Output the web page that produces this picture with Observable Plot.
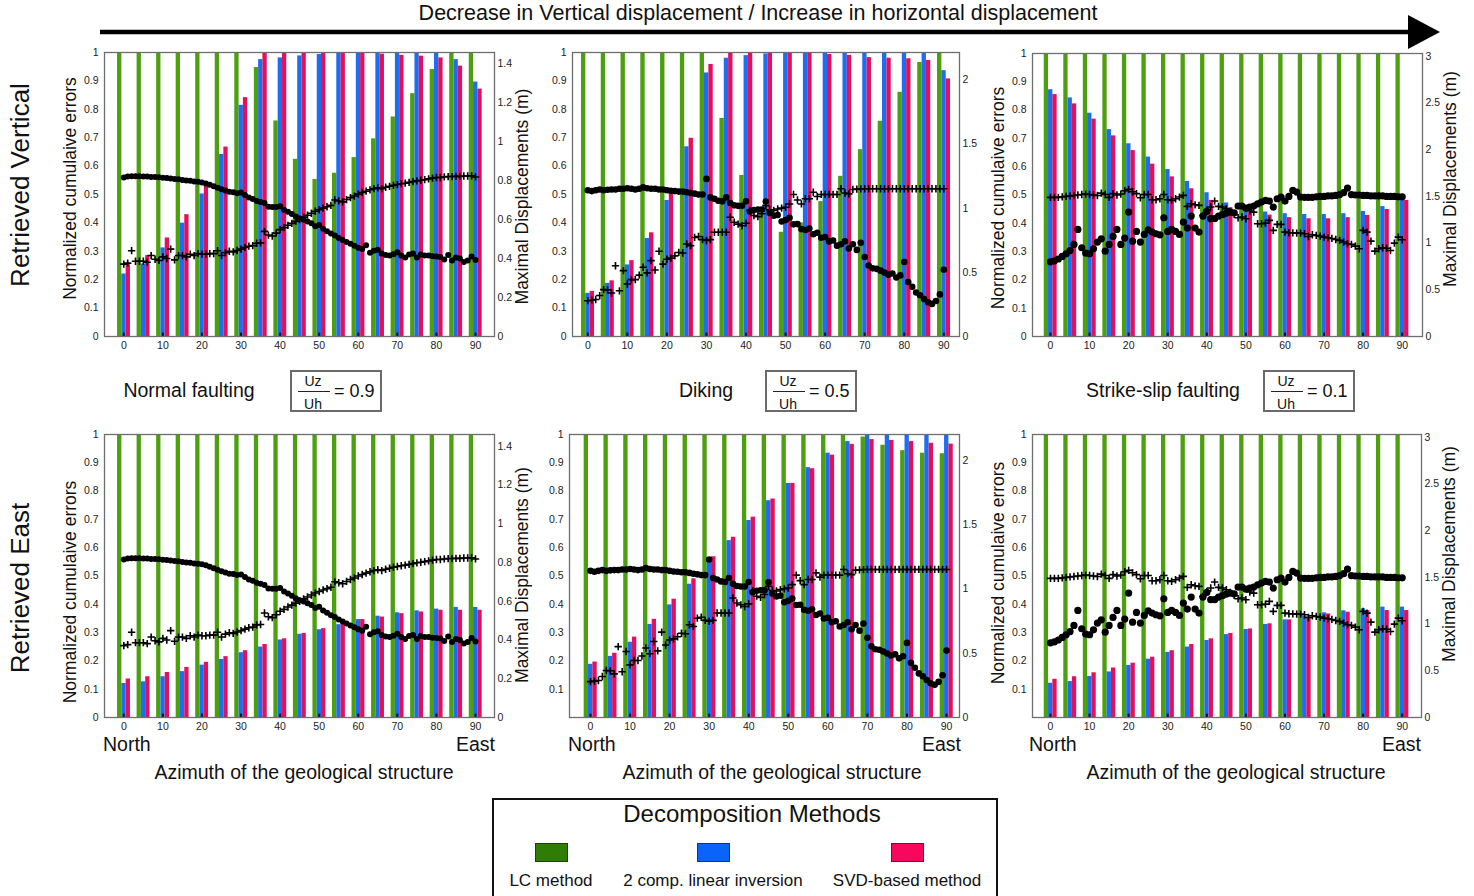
<!DOCTYPE html>
<html>
<head>
<meta charset="utf-8">
<script src="https://cdn.jsdelivr.net/npm/d3@7"></script>
<script src="https://cdn.jsdelivr.net/npm/@observablehq/plot@0.6"></script>
<style>
  html, body { margin: 0; padding: 0; background: #fff; }
  body { font-family: "Liberation Sans", Arial, sans-serif; color: #111; }
  #page { position: relative; width: 1474px; height: 896px; overflow: hidden; background: #fff; }
  .t { position: absolute; white-space: nowrap; line-height: 1; }
  svg { overflow: visible; }
</style>
</head>
<body>
<div id="page"></div>
<script>
// ---------------- DATA ----------------
const groupAzimuths = [0,5,10,15,20,25,30,35,40,45,50,55,60,65,70,75,80,85,90];
const scatterAzimuths = d3.range(0, 91); // 1-degree steps, 0..90
const xTicks = [0,10,20,30,40,50,60,70,80,90];
const leftTicksFull = [0,0.1,0.2,0.3,0.4,0.5,0.6,0.7,0.8,0.9,1];
const leftTicksNoZero = [0.1,0.2,0.3,0.4,0.5,0.6,0.7,0.8,0.9,1];
const rightTicksNormal = [0,0.2,0.4,0.6,0.8,1,1.2,1.4];
const rightTicksDiking = [0,0.5,1,1.5,2];
const rightTicksStrike = [0,0.5,1,1.5,2,2.5,3];
const methods = ["LC method", "2 comp. linear inversion", "SVD-based method"];

// Normalized cumulative errors (bars), one value per azimuth group
const normalVertLC  = [1,1,1,1,1,1,1,0.947,0.759,0.624,0.553,0.575,0.63,0.696,0.773,0.855,0.94,1,1];
const normalVertLin = [0.22,0.255,0.312,0.399,0.502,0.641,0.814,0.975,0.981,0.988,0.993,1,1,1,1,1,1,0.975,0.896];
const normalVertSVD = [0.253,0.285,0.347,0.429,0.53,0.667,0.841,1,1,1,1,1,1,0.994,0.99,0.987,0.981,0.952,0.871];

const dikingVertLC  = [1,1,1,1,1,1,1,0.768,0.567,0.44,0.367,0.40,0.475,0.564,0.658,0.758,0.86,0.965,1];
const dikingVertLin = [0.152,0.187,0.252,0.345,0.479,0.668,0.928,0.98,0.989,0.995,1,1,1,1,1,1,1,1,0.936];
const dikingVertSVD = [0.159,0.196,0.267,0.365,0.506,0.698,0.958,1,1,1,1,1,0.993,0.99,0.982,0.98,0.978,0.972,0.907];

const strikeVertLC  = [1,1,1,1,1,1,1,1,1,1,1,1,1,1,1,1,1,1,1];
const strikeVertLin = [0.872,0.843,0.789,0.731,0.681,0.634,0.59,0.548,0.508,0.472,0.45,0.44,0.434,0.431,0.431,0.434,0.442,0.459,0.49];
const strikeVertSVD = [0.855,0.822,0.768,0.709,0.657,0.609,0.564,0.522,0.481,0.455,0.438,0.429,0.42,0.416,0.416,0.42,0.428,0.449,0.481];

const normalEastLC  = [1,1,1,1,1,1,1,1,1,1,1,1,1,1,1,1,1,1,1];
const normalEastLin = [0.12,0.126,0.144,0.162,0.185,0.205,0.229,0.249,0.274,0.294,0.31,0.328,0.346,0.358,0.37,0.377,0.383,0.389,0.389];
const normalEastSVD = [0.136,0.144,0.159,0.177,0.195,0.215,0.236,0.258,0.278,0.297,0.314,0.33,0.346,0.355,0.367,0.373,0.379,0.379,0.379];

const dikingEastLC  = [1,1,1,1,1,1,1,1,1,1,1,1,1,1,0.991,0.962,0.943,0.934,0.932];
const dikingEastLin = [0.188,0.216,0.266,0.329,0.398,0.471,0.551,0.625,0.696,0.766,0.827,0.883,0.934,0.975,1,1,1,1,1];
const dikingEastSVD = [0.196,0.227,0.284,0.347,0.418,0.49,0.568,0.637,0.708,0.772,0.827,0.879,0.927,0.965,0.982,0.979,0.975,0.969,0.966];

const strikeEastLC  = [1,1,1,1,1,1,1,1,1,1,1,1,1,1,1,1,1,1,1];
const strikeEastLin = [0.121,0.127,0.145,0.161,0.184,0.206,0.23,0.249,0.272,0.293,0.311,0.329,0.345,0.357,0.37,0.377,0.384,0.39,0.39];
const strikeEastSVD = [0.135,0.144,0.158,0.175,0.192,0.213,0.236,0.258,0.278,0.297,0.313,0.331,0.345,0.355,0.366,0.372,0.378,0.378,0.378];

// Maximal displacements (m), one value per degree of azimuth (filled dots / plus markers)
const normalDotsM = [0.815,0.82,0.822,0.822,0.822,0.82,0.82,0.818,0.818,0.816,
 0.814,0.812,0.81,0.808,0.806,0.802,0.8,0.798,0.795,0.793,
 0.79,0.785,0.778,0.77,0.762,0.755,0.748,0.742,0.74,0.735,
 0.738,0.725,0.712,0.705,0.695,0.69,0.684,0.665,0.664,0.664,
 0.668,0.65,0.64,0.628,0.615,0.605,0.598,0.59,0.58,0.565,
 0.572,0.552,0.54,0.528,0.518,0.505,0.495,0.485,0.475,0.465,
 0.455,0.448,0.468,0.43,0.44,0.445,0.425,0.418,0.415,0.422,
 0.432,0.415,0.405,0.42,0.425,0.405,0.42,0.415,0.415,0.412,
 0.41,0.408,0.395,0.418,0.39,0.405,0.4,0.382,0.39,0.41,
 0.392];
const normalCrossesM = [0.371,0.376,0.44,0.386,0.386,0.386,0.381,0.415,0.396,0.39,
 0.408,0.4,0.448,0.393,0.415,0.415,0.408,0.422,0.415,0.425,
 0.422,0.422,0.425,0.425,0.44,0.415,0.43,0.437,0.434,0.441,
 0.448,0.456,0.463,0.466,0.478,0.48,0.539,0.52,0.515,0.53,
 0.548,0.558,0.57,0.58,0.59,0.6,0.612,0.622,0.632,0.642,
 0.65,0.658,0.665,0.672,0.70,0.695,0.69,0.702,0.712,0.72,
 0.73,0.738,0.745,0.752,0.758,0.762,0.758,0.765,0.77,0.775,
 0.779,0.783,0.786,0.79,0.794,0.798,0.801,0.804,0.808,0.812,
 0.815,0.815,0.818,0.82,0.82,0.821,0.821,0.823,0.823,0.824,
 0.818];
const dikingDotsM = [1.14,1.133,1.14,1.146,1.14,1.144,1.146,1.146,1.151,1.151,
 1.155,1.151,1.146,1.151,1.162,1.155,1.151,1.151,1.146,1.146,
 1.14,1.135,1.133,1.129,1.129,1.124,1.118,1.113,1.107,1.107,
 1.228,1.084,1.073,1.058,1.053,1.084,1.04,1.022,1.018,1.018,
 1.053,0.974,0.985,0.989,0.989,1.051,0.963,0.941,0.947,0.896,
 0.907,0.925,0.874,0.876,0.837,0.83,0.841,0.797,0.808,0.77,
 0.775,0.741,0.748,0.708,0.719,0.741,0.686,0.719,0.675,0.73,
 0.62,0.553,0.531,0.527,0.513,0.498,0.482,0.491,0.46,0.476,
 0.58,0.425,0.387,0.343,0.321,0.292,0.266,0.254,0.277,0.328,
 0.52];
const dikingCrossesM = [0.279,0.283,0.288,0.319,0.365,0.363,0.339,0.551,0.356,0.513,
 0.409,0.443,0.443,0.478,0.54,0.496,0.591,0.518,0.664,0.564,
 0.602,0.611,0.628,0.655,0.651,0.721,0.708,0.772,0.779,0.755,
 0.748,0.755,0.812,0.812,0.812,0.812,0.929,0.89,0.876,0.863,
 0.883,0.983,0.943,0.934,0.956,1.02,0.987,0.983,0.994,1.0,
 1.007,1.033,1.107,1.064,1.033,1.073,1.073,1.124,1.091,1.107,
 1.107,1.107,1.107,1.107,1.151,1.118,1.111,1.146,1.148,1.15,
 1.151,1.151,1.151,1.151,1.151,1.151,1.151,1.151,1.151,1.151,
 1.151,1.151,1.151,1.151,1.151,1.151,1.151,1.151,1.151,1.151,
 1.151];
const strikeDotsM = [0.80,0.81,0.83,0.857,0.886,0.92,0.986,1.146,0.95,0.893,
 0.886,0.939,1.011,1.046,0.914,0.986,1.071,1.146,0.986,1.054,
 1.332,1.021,1.125,1.011,1.093,1.143,1.118,1.1,1.089,1.271,
 1.125,1.146,1.125,1.093,1.225,1.161,1.289,1.161,1.118,1.289,
 1.339,1.261,1.261,1.289,1.304,1.321,1.332,1.325,1.396,1.396,
 1.375,1.386,1.396,1.421,1.439,1.457,1.45,1.386,1.475,1.493,
 1.45,1.5,1.564,1.546,1.493,1.49,1.49,1.49,1.495,1.5,
 1.5,1.505,1.505,1.51,1.52,1.54,1.589,1.52,1.515,1.515,
 1.51,1.51,1.505,1.505,1.505,1.505,1.5,1.5,1.5,1.495,
 1.495];
const strikeCrossesM = [1.49,1.49,1.49,1.495,1.50,1.505,1.51,1.515,1.52,1.525,
 1.52,1.515,1.51,1.535,1.52,1.49,1.53,1.515,1.525,1.56,
 1.575,1.55,1.53,1.486,1.52,1.52,1.464,1.464,1.475,1.521,
 1.464,1.457,1.475,1.493,1.511,1.393,1.421,1.41,1.404,1.296,
 1.35,1.386,1.45,1.393,1.386,1.368,1.34,1.307,1.271,1.279,
 1.261,1.343,1.332,1.207,1.207,1.214,1.243,1.136,1.2,1.2,
 1.118,1.111,1.11,1.107,1.107,1.1,1.071,1.089,1.082,1.075,
 1.064,1.057,1.05,1.039,1.029,1.011,0.993,0.986,0.968,0.939,
 1.136,1.118,1.021,0.914,0.939,0.95,0.945,0.921,1.0,1.064,
 1.036];

// ---------------- STYLE ----------------
const barColors = ["#4c9f0e", "#1e6cf1", "#e3105d"];
const legendColors = ["#2f7d06", "#0a64fb", "#f7085d"];
const barOffset = {"LC method": -1.6, "2 comp. linear inversion": -0.5, "SVD-based method": 0.6};
const barWidth = 1.1;
const fmt = d3.format("~g");
const FONT = '"Liberation Sans", Arial, sans-serif';

const page = document.getElementById("page");

function addText(str, x, y, size, opts = {}) {
  const el = document.createElement("div");
  el.className = "t";
  el.textContent = str;
  const anchor = opts.anchor || "middle";
  const tx = anchor === "start" ? "0" : anchor === "end" ? "-100%" : "-50%";
  el.style.left = x + "px";
  el.style.top = y + "px";
  el.style.fontSize = size + "px";
  el.style.transform = `translate(${tx},-50%)` + (opts.rotate ? ` rotate(${opts.rotate}deg)` : "");
  if (opts.color) el.style.color = opts.color;
  page.appendChild(el);
  return el;
}

function makePanel(cfg) {
  const mL = 52, mR = 58, mT = 12, mB = 26;
  const width = (cfg.fr - cfg.fl) + mL + mR;
  const height = (cfg.fb - cfg.ft) + mT + mB;
  const xDomain = [(cfg.fl - cfg.x0) / cfg.k, (cfg.fr - cfg.x0) / cfg.k];
  const bars = [];
  groupAzimuths.forEach((az, i) => {
    methods.forEach((m, j) => bars.push({az, method: m, v: cfg.bars[j][i]}));
  });
  const dots = scatterAzimuths.map((az, i) => ({az, m: cfg.dots[i]}));
  const crosses = scatterAzimuths.map((az, i) => ({az, m: cfg.crosses[i]}));
  const rmax = cfg.rmax;
  const marks = [
    Plot.rect(bars, {
      x1: d => d.az + barOffset[d.method],
      x2: d => d.az + barOffset[d.method] + barWidth,
      y1: 0, y2: "v", fill: "method"
    }),
    Plot.ruleX(xTicks, {x: d => d, y1: 0, y2: 0.012, stroke: "#111", strokeWidth: 2}),
    Plot.dot(crosses, {x: "az", y: d => d.m / rmax, symbol: "plus", r: 2.5, stroke: "#000", strokeWidth: 1.6}),
    Plot.dot(dots, {x: "az", y: d => d.m / rmax, r: cfg.dotR, fill: "#000", stroke: "none"}),
    Plot.frame({stroke: "#6e6e6e", strokeWidth: 1.3}),
    Plot.axisX(xTicks, {anchor: "bottom", tickSize: 0, tickPadding: 5, text: d => fmt(d), label: null, fill: "#222"}),
    Plot.axisY(cfg.leftTicks, {anchor: "left", tickSize: 0, tickPadding: 6, text: d => fmt(d), label: null, fill: "#222"}),
    Plot.axisY(cfg.rightTicks, {anchor: "right", y: d => d / rmax, tickSize: 0, tickPadding: 3, text: d => fmt(d), label: null, fill: "#222"})
  ];
  if (cfg.leftTitle) {
    marks.push(Plot.text(["Normalized cumulaive errors"], {
      frameAnchor: "left", dx: -34, dy: cfg.leftDy || 0, rotate: -90,
      textAnchor: "middle", lineAnchor: "middle", fontSize: 17.5, fill: "#111"
    }));
  }
  if (cfg.rightTitle) {
    marks.push(Plot.text(["Maximal Displacements (m)"], {
      frameAnchor: "right", dx: 28, dy: cfg.rightDy || 0, rotate: -90,
      textAnchor: "middle", lineAnchor: "middle", fontSize: 17.5, fill: "#111"
    }));
  }
  const svg = Plot.plot({
    width, height,
    marginLeft: mL, marginRight: mR, marginTop: mT, marginBottom: mB,
    x: {domain: xDomain},
    y: {domain: [0, 1]},
    color: {domain: methods, range: barColors},
    style: {background: "transparent", fontFamily: FONT, fontSize: "10.5px", overflow: "visible"},
    marks
  });
  svg.style.position = "absolute";
  svg.style.left = (cfg.fl - mL) + "px";
  svg.style.top = (cfg.ft - mT) + "px";
  page.appendChild(svg);
}

// ---------------- PANELS ----------------
makePanel({fl: 104, fr: 494, ft: 52, fb: 336, x0: 123.3, k: 3.908, rmax: 1.456, dotR: 3.0,
  bars: [normalVertLC, normalVertLin, normalVertSVD], dots: normalDotsM, crosses: normalCrossesM,
  leftTicks: leftTicksFull, rightTicks: rightTicksNormal, leftTitle: true, rightTitle: true, leftDy: -6, rightDy: 2});
makePanel({fl: 572, fr: 959, ft: 52, fb: 336, x0: 587.3, k: 3.956, rmax: 2.213, dotR: 3.3,
  bars: [dikingVertLC, dikingVertLin, dikingVertSVD], dots: dikingDotsM, crosses: dikingCrossesM,
  leftTicks: leftTicksFull, rightTicks: rightTicksDiking});
makePanel({fl: 1032, fr: 1422, ft: 53, fb: 336, x0: 1050, k: 3.908, rmax: 3.03, dotR: 3.6,
  bars: [strikeVertLC, strikeVertLin, strikeVertSVD], dots: strikeDotsM, crosses: strikeCrossesM,
  leftTicks: leftTicksFull, rightTicks: rightTicksStrike, leftTitle: true, rightTitle: true, leftDy: 3, rightDy: -16});
makePanel({fl: 104, fr: 494, ft: 434, fb: 717, x0: 123.3, k: 3.908, rmax: 1.46, dotR: 3.0,
  bars: [normalEastLC, normalEastLin, normalEastSVD], dots: normalDotsM, crosses: normalCrossesM,
  leftTicks: leftTicksFull, rightTicks: rightTicksNormal, leftTitle: true, rightTitle: true, leftDy: 16, rightDy: -1});
makePanel({fl: 569, fr: 959, ft: 434, fb: 717, x0: 590, k: 3.956, rmax: 2.2, dotR: 3.3,
  bars: [dikingEastLC, dikingEastLin, dikingEastSVD], dots: dikingDotsM, crosses: dikingCrossesM,
  leftTicks: leftTicksNoZero, rightTicks: rightTicksDiking});
makePanel({fl: 1032, fr: 1421, ft: 434, fb: 717, x0: 1050, k: 3.908, rmax: 3.03, dotR: 3.6,
  bars: [strikeEastLC, strikeEastLin, strikeEastSVD], dots: strikeDotsM, crosses: strikeCrossesM,
  leftTicks: leftTicksNoZero, rightTicks: rightTicksStrike, leftTitle: true, rightTitle: true, leftDy: -3, rightDy: -22});

// ---------------- ANNOTATIONS ----------------
// top arrow
const NS = "http://www.w3.org/2000/svg";
const arrow = document.createElementNS(NS, "svg");
arrow.setAttribute("width", 1474); arrow.setAttribute("height", 60);
arrow.style.position = "absolute"; arrow.style.left = "0px"; arrow.style.top = "0px";
arrow.innerHTML = '<line x1="100" y1="32" x2="1412" y2="32" stroke="#000" stroke-width="4.5"/>' +
  '<polygon points="1408,15 1440,32 1408,49" fill="#000"/>';
page.appendChild(arrow);
addText("Decrease in Vertical displacement / Increase in horizontal displacement", 758, 14, 21.5);

// row labels
addText("Retrieved Vertical", 20, 185, 26, {rotate: -90});
addText("Retrieved East", 20, 588, 26, {rotate: -90});

// scenario labels with ratio boxes
const scenarios = [
  {name: "Normal faulting", cx: 189, box: 290, ratio: "0.9"},
  {name: "Diking", cx: 706, box: 765, ratio: "0.5"},
  {name: "Strike-slip faulting", cx: 1163, box: 1263, ratio: "0.1"}
];
scenarios.forEach(s => {
  addText(s.name, s.cx, 391, 19.5);
  const box = document.createElement("div");
  Object.assign(box.style, {position: "absolute", left: s.box + "px", top: "370px", width: "88px", height: "38px",
    border: "2px solid #6a6a6a", background: "#fff"});
  page.appendChild(box);
  addText("Uz", s.box + 23, 381, 14);
  const line = document.createElement("div");
  Object.assign(line.style, {position: "absolute", left: (s.box + 8) + "px", top: "391px", width: "32px", height: "1px", background: "#222"});
  page.appendChild(line);
  addText("Uh", s.box + 23, 404, 14);
  addText("= " + s.ratio, s.box + 44, 391, 18, {anchor: "start"});
});

// bottom axis labels
[[103, 495, 304], [568, 961, 772], [1029, 1421, 1236]].forEach(([l, r, c]) => {
  addText("North", l, 745, 19.5, {anchor: "start"});
  addText("East", r, 745, 19.5, {anchor: "end"});
  addText("Azimuth of the geological structure", c, 773, 19.5);
});

// legend
const lg = document.createElement("div");
Object.assign(lg.style, {position: "absolute", left: "492px", top: "798px", width: "502px", height: "120px",
  border: "2px solid #111", background: "#fff"});
page.appendChild(lg);
addText("Decomposition Methods", 752, 814, 24);
const legendX = [551, 713, 907];
methods.forEach((m, i) => {
  const sw = document.createElement("div");
  Object.assign(sw.style, {position: "absolute", left: (legendX[i] - 16) + "px", top: "843px", width: "31px", height: "17px",
    background: legendColors[i], border: "1px solid rgba(0,0,0,0.45)"});
  page.appendChild(sw);
  addText(m, legendX[i], 880, 17);
});
</script>
</body>
</html>
